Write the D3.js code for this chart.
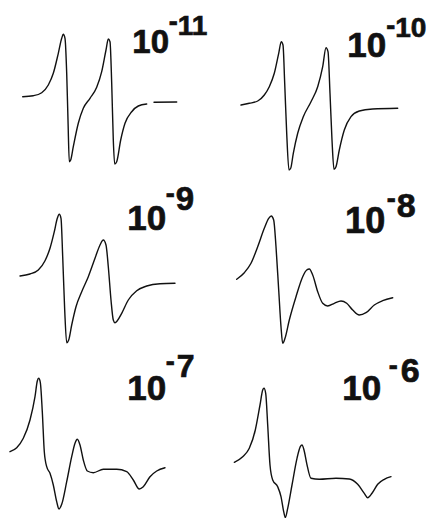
<!DOCTYPE html>
<html><head><meta charset="utf-8">
<script src="https://cdn.jsdelivr.net/npm/d3@7"></script>
<style>html,body{margin:0;padding:0;background:#fff;} svg{display:block}</style>
</head><body><svg id="c" width="433" height="518"></svg>
<script>
// Concentration labels (10^exp)
const exponents = ["-11", "-10", "-9", "-8", "-7", "-6"];

// Spectrum traces: field (arbitrary units) and derivative signal (arbitrary units)
const field_e11 = [22.7,33.3,41.7,48.3,53.3,58.3,61.7,63.3,65,66.7,68,69.3,70.7,73.3,78.3,83.3,90,96.7,101.7,106,108.3,110,111.7,113.3,114.7,116.7,120.7,125,131.7,138.3,146.7,null,154,176.7];
const signal_e11 = [3.3,4.3,7.3,15,26.7,46.7,61.7,65.7,61.7,26.7,-20,-61.7,-60,-46.7,-23.3,-8.3,1.7,12.7,28.3,50,61,58.3,16.7,-40,-64,-61.7,-40,-23.3,-11.7,-6,-4,null,-2.3,-2];

const field_e10 = [25,33.3,41.7,48.3,53.3,58.3,62.7,65.3,67,68.7,70.7,73,74.7,77.3,81.7,87.3,95,101.7,106.7,110,112,114,116,118,120,123.3,128.3,135,143.3,156.7,181.7];
const signal_e10 = [-5,-3.3,-1,5,13.3,26.7,46.7,58.3,55,16.7,-33.3,-70,-68.3,-53.3,-33.3,-16.7,-1.7,13.3,33.3,52.3,48.3,6.7,-40,-69.3,-66.7,-50,-30,-16.7,-11,-9,-8.3];

const field_e9 = [20,30,38.3,45,50,54.3,57.3,59.3,61,62.7,64.7,66.7,68.7,71.7,76,81.7,88.3,95,100,103.3,106,108.3,111,113.3,115,117.3,121.7,128.3,136.7,146.7,160,175];
const signal_e9 = [4,6,10,19.3,31.7,48.3,61.7,65.7,61.7,23.3,-30,-62.7,-60,-45,-26.7,-11.7,3.3,21.7,35,40,35,13.3,-20,-40,-42.7,-40.7,-33.3,-20,-10.7,-6,-3.7,-3.3];

const field_e8 = [20.7,28.3,35,41.7,48.3,52.7,55.3,57.7,60,62.7,65,66.7,69,73.3,80,86.7,90.7,93.3,96.7,101.7,106.7,111.7,118.3,125,130.7,136.7,143.3,150,158.3,166.7,176.7];
const signal_e8 = [0.7,7.3,16.7,33.3,51.7,61.7,64,60,33.3,-10,-46.7,-63.3,-58.3,-40,-16.7,3.3,10,11,5,-11.7,-23.3,-26,-23.3,-21,-23.3,-30,-35,-32.7,-25,-20.7,-17.7];

const field_e7 = [10,16.7,23.3,30,35,37.3,38.7,40.3,42.3,44.3,46.7,50,53.3,56.7,59,61.7,66.7,71.7,75,77.3,80,83.3,87.3,93.3,103.3,116.7,126.7,133.3,139.3,143.3,150,156.7,165];
const signal_e7 = [8.3,12.3,21.7,40,63.3,79,81.7,77.7,48.3,8.3,-6.7,-13.3,-25,-41.7,-49,-44.3,-21.7,3.3,16.7,20.7,15,0,-11,-12.7,-9.3,-9.3,-11.7,-20,-29,-26.7,-16.7,-11,-7.7];

const field_e6 = [18.3,26.7,33.3,39.3,44,46.7,48,49.7,51.7,54,56.7,61.7,65,67.7,69.3,71.7,76,81,84.3,86,88,90.7,95,103.3,120,133.3,141.7,148.3,151.7,156,161.7,168.3,175];
const signal_e6 = [-2.3,3.3,11.7,30,55,70,71.7,66.7,35,-5,-20,-26.7,-36.7,-51.7,-57.7,-48.3,-25,1.7,13.3,15,10,-3.3,-18.3,-19.3,-18.3,-19,-24.3,-33.3,-37.7,-33.3,-24.3,-19.3,-16.7];

const fields = [field_e11, field_e10, field_e9, field_e8, field_e7, field_e6];
const signals = [signal_e11, signal_e10, signal_e9, signal_e8, signal_e7, signal_e6];

// Layout (positions / sizes only)
const colX = [0, 216];
const rowY = [100, 280, 460];
const labelLayout = [
  {base:[135,53,33], minus:[170,23], exp:[180,35,28]},
  {base:[350,57,35], minus:[387.5,27], exp:[397.5,37,28]},
  {base:[130,230,35], minus:[167,195], exp:[177,210,33]},
  {base:[348,233,36], minus:[388,200], exp:[398,217,34]},
  {base:[130,400,35], minus:[167,363], exp:[178,377,32]},
  {base:[345,400,35], minus:[390,367], exp:[402,382,34]}
];

const svg = d3.select("#c");
const font = "'Liberation Sans', Arial, Helvetica, sans-serif";

exponents.forEach((e, i) => {
  const col = i % 2, row = Math.floor(i / 2);
  const x = d3.scaleLinear().domain([0, 216]).range([colX[col], colX[col] + 216]);
  const y = d3.scaleLinear().domain([-100, 100]).range([rowY[row] + 100, rowY[row] - 100]);
  const pts = fields[i].map((f, k) => [f, signals[i][k]]);
  const line = d3.line()
    .defined(d => d[0] !== null && d[1] !== null)
    .x(d => x(d[0])).y(d => y(d[1]))
    .curve(d3.curveMonotoneX);
  svg.append("path")
    .attr("d", line(pts))
    .attr("fill", "none")
    .attr("stroke", "#111")
    .attr("stroke-width", 1.4)
    .attr("stroke-linejoin", "round")
    .attr("stroke-linecap", "round");

  const L = labelLayout[i];
  const t = svg.append("text")
    .attr("font-family", font).attr("font-weight", "bold")
    .attr("fill", "#111").attr("stroke", "#111").attr("stroke-width", 0.7);
  t.append("tspan").attr("x", L.base[0] - 0.08 * L.base[2]).attr("y", L.base[1])
    .attr("font-size", L.base[2]).text("10");
  const ms = 27;
  t.append("tspan").attr("x", L.minus[0] - 0.045 * ms).attr("y", L.minus[1] + 0.28 * ms)
    .attr("font-size", ms).text(e.charAt(0));
  const digits = e.slice(1);
  const bear = digits.charAt(0) === "1" ? 0.08 : 0.04;
  t.append("tspan").attr("x", L.exp[0] - bear * L.exp[2]).attr("y", L.exp[1])
    .attr("font-size", L.exp[2]).text(digits);
});
</script>
</body></html>
